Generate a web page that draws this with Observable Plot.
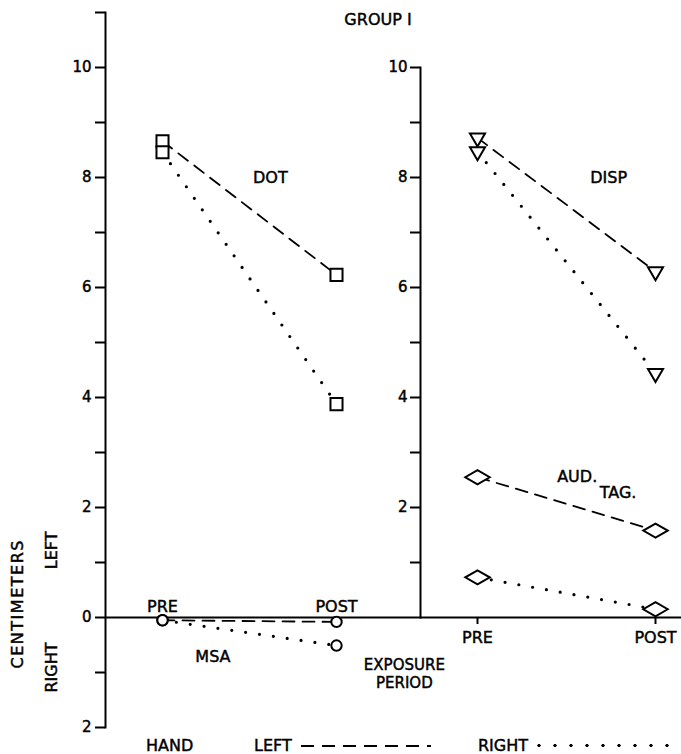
<!DOCTYPE html>
<html>
<head>
<meta charset="utf-8">
<script src="https://cdn.jsdelivr.net/npm/d3@7"></script>
<script src="https://cdn.jsdelivr.net/npm/@observablehq/plot@0.6"></script>
<style>
  body { margin: 0; background: #fff; }
  #wrap { position: relative; width: 681px; height: 737px; overflow: hidden; font-family: "DejaVu Sans", sans-serif; }
  #wrap svg { position: absolute; left: 0; top: 0; overflow: visible; }
  #wrap svg text { stroke: #000; stroke-width: 0.45px; paint-order: normal; }
  .title { position: absolute; top: 11px; left: 378px; transform: translateX(-50%); font: 16px/17px "DejaVu Sans", sans-serif; white-space: nowrap; -webkit-text-stroke: 0.45px #000; }
  #legend { position: relative; width: 681px; height: 17px; font: 16px/17px "DejaVu Sans", sans-serif; -webkit-text-stroke: 0.45px #000; }
  #legend span { position: absolute; top: 0; white-space: nowrap; }
  #legend .dash { top: 8px; height: 2px; background: repeating-linear-gradient(to right, #000 0 13px, transparent 13px 21px); }
  #legend .dots { top: 6px; height: 5px; background: radial-gradient(circle, #000 1.4px, transparent 1.9px) 0 0 / 16px 5px repeat-x; }
</style>
</head>
<body>
<div id="wrap"><div class="title">GROUP I</div></div>
<div id="legend">
  <span style="left:146px">HAND</span>
  <span style="left:254px">LEFT</span><span class="dash" style="left:301px;width:130px"></span>
  <span style="left:478px">RIGHT</span><span class="dots" style="left:531px;width:138px"></span>
</div>
<script>
// ---- data (centimetres; negative = RIGHT) ----
const periods = ["PRE", "POST"];
const hands = ["LEFT", "RIGHT"];
const dotLeftHand   = [8.66, 6.23];
const dotRightHand  = [8.46, 3.88];
const msaLeftHand   = [-0.05, -0.08];
const msaRightHand  = [-0.05, -0.51];
const dispLeftHand  = [8.72, 6.29];
const dispRightHand = [8.47, 4.44];
const audLeftHand   = [2.55, 1.58];
const audRightHand  = [0.73, 0.15];
const leftTicks  = [-2, -1, 0, 1, 2, 3, 4, 5, 6, 7, 8, 9, 10, 11];
const rightTicks = [1, 2, 3, 4, 5, 6, 7, 8, 9, 10];

// annotation labels (data coordinates)
const labelText  = ["DOT", "MSA", "PRE", "POST", "EXPOSURE", "PERIOD", "DISP", "AUD.", "TAG."];
const labelPanel = ["L", "L", "L", "L", "L", "L", "R", "R", "R"];
const labelX = [0.62, 0.29, 0, 1, 1.39, 1.39, 0.737, 0.56, 0.79];
const labelY = [8.0, -0.71, 0.2, 0.2, -0.86, -1.2, 8.0, 2.56, 2.27];
const labelSize = [16, 16, 16, 16, 15, 15, 16, 16, 16];

const sideText = ["CENTIMETERS", "LEFT", "RIGHT"];
const sideY  = [0.25, 1.22, -0.91];
const sideDx = [-88, -54, -54];

// ---- build tables ----
function series(task, panel, hand, vals) {
  return vals.map((v, i) => ({task, panel, hand, period: periods[i], i, v}));
}
const rows = [
  ...series("DOT", "L", "LEFT", dotLeftHand),
  ...series("DOT", "L", "RIGHT", dotRightHand),
  ...series("MSA", "L", "LEFT", msaLeftHand),
  ...series("MSA", "L", "RIGHT", msaRightHand),
  ...series("DISP", "R", "LEFT", dispLeftHand),
  ...series("DISP", "R", "RIGHT", dispRightHand),
  ...series("AUD", "R", "LEFT", audLeftHand),
  ...series("AUD", "R", "RIGHT", audRightHand)
];
const labels = labelText.map((t, k) => ({t, panel: labelPanel[k], x: labelX[k], y: labelY[k], s: labelSize[k]}));
const side = sideText.map((t, k) => ({t, y: sideY[k], dx: sideDx[k]}));

const W = 681, H = 737;
const dashed = {strokeDasharray: "12,8", strokeWidth: 1.8, stroke: "#000"};
const dotted = {strokeDasharray: "0,14", strokeLinecap: "round", strokeWidth: 3.2, stroke: "#000"};
const markerStyle = {stroke: "#000", strokeWidth: 2, fill: "#fff"};
const symbolFor = {
  DOT:  {symbol: "square", r: 6.8},
  MSA:  {symbol: "circle", r: 5.2},
  DISP: {symbol: "triangle", r: 5.6, rotate: 180},
  AUD:  {symbol: "diamond", r: 7.4, rotate: 90}
};

function panelMarks(panel) {
  const pr = rows.filter(d => d.panel === panel);
  const marks = [
    Plot.line(pr.filter(d => d.hand === hands[0]), {x: "i", y: "v", z: "task", ...dashed}),
    Plot.line(pr.filter(d => d.hand === hands[1]), {x: "i", y: "v", z: "task", ...dotted})
  ];
  for (const task of Object.keys(symbolFor)) {
    const data = pr.filter(d => d.task === task);
    if (data.length) marks.push(Plot.dot(data, {x: "i", y: "v", ...symbolFor[task], ...markerStyle}));
  }
  for (const size of [15, 16]) {
    marks.push(Plot.text(labels.filter(d => d.panel === panel && d.s === size),
      {x: "x", y: "y", text: "t", fontSize: size, fill: "#000"}));
  }
  return marks;
}

const common = {
  width: W, height: H,
  style: {fontFamily: "DejaVu Sans, sans-serif", fontSize: "15px", background: "transparent", color: "#000", overflow: "visible"}
};

const leftPlot = Plot.plot({
  ...common,
  marginLeft: 105, marginRight: W - 420, marginTop: 12, marginBottom: H - 727,
  x: {domain: [0, 1], range: [162, 336], axis: null},
  y: {domain: [-2, 11], range: [727, 12], axis: null},
  marks: [
    Plot.frame({anchor: "left", strokeWidth: 2}),
    Plot.axisY(leftTicks, {tickSize: 10, tickPadding: 4, strokeWidth: 2, fontSize: 15, label: null,
      tickFormat: d => d % 2 === 0 ? String(Math.abs(d)) : ""}),
    Plot.ruleY([0], {strokeWidth: 2}),
    ...panelMarks("L"),
    ...side.map(s => Plot.text([s], {y: "y", text: "t", frameAnchor: "left", textAnchor: "middle",
      dx: s.dx, rotate: -90, fontSize: 16, fill: "#000"}))
  ]
});

const rightPlot = Plot.plot({
  ...common,
  marginLeft: 420, marginRight: 0, marginTop: 67, marginBottom: H - 617,
  x: {domain: [0, 1], range: [477, 655], axis: null},
  y: {domain: [0, 10], range: [617, 67], axis: null},
  marks: [
    Plot.frame({anchor: "left", strokeWidth: 2}),
    Plot.axisY(rightTicks, {tickSize: 10, tickPadding: 3, strokeWidth: 2, fontSize: 15, label: null,
      tickFormat: d => d % 2 === 0 ? String(d) : ""}),
    Plot.axisX([0, 1], {anchor: "bottom", tickSize: 7, tickPadding: 7, strokeWidth: 2, fontSize: 16, label: null,
      tickFormat: i => periods[i]}),
    Plot.ruleY([0], {strokeWidth: 2}),
    ...panelMarks("R")
  ]
});

// widen the letter spacing of the rotated axis title, as in the original lettering
leftPlot.querySelectorAll("text").forEach(t => {
  if (t.textContent === "CENTIMETERS") t.style.letterSpacing = "1.5px";
});

const wrap = document.getElementById("wrap");
wrap.appendChild(leftPlot);
wrap.appendChild(rightPlot);
</script>
</body>
</html>
